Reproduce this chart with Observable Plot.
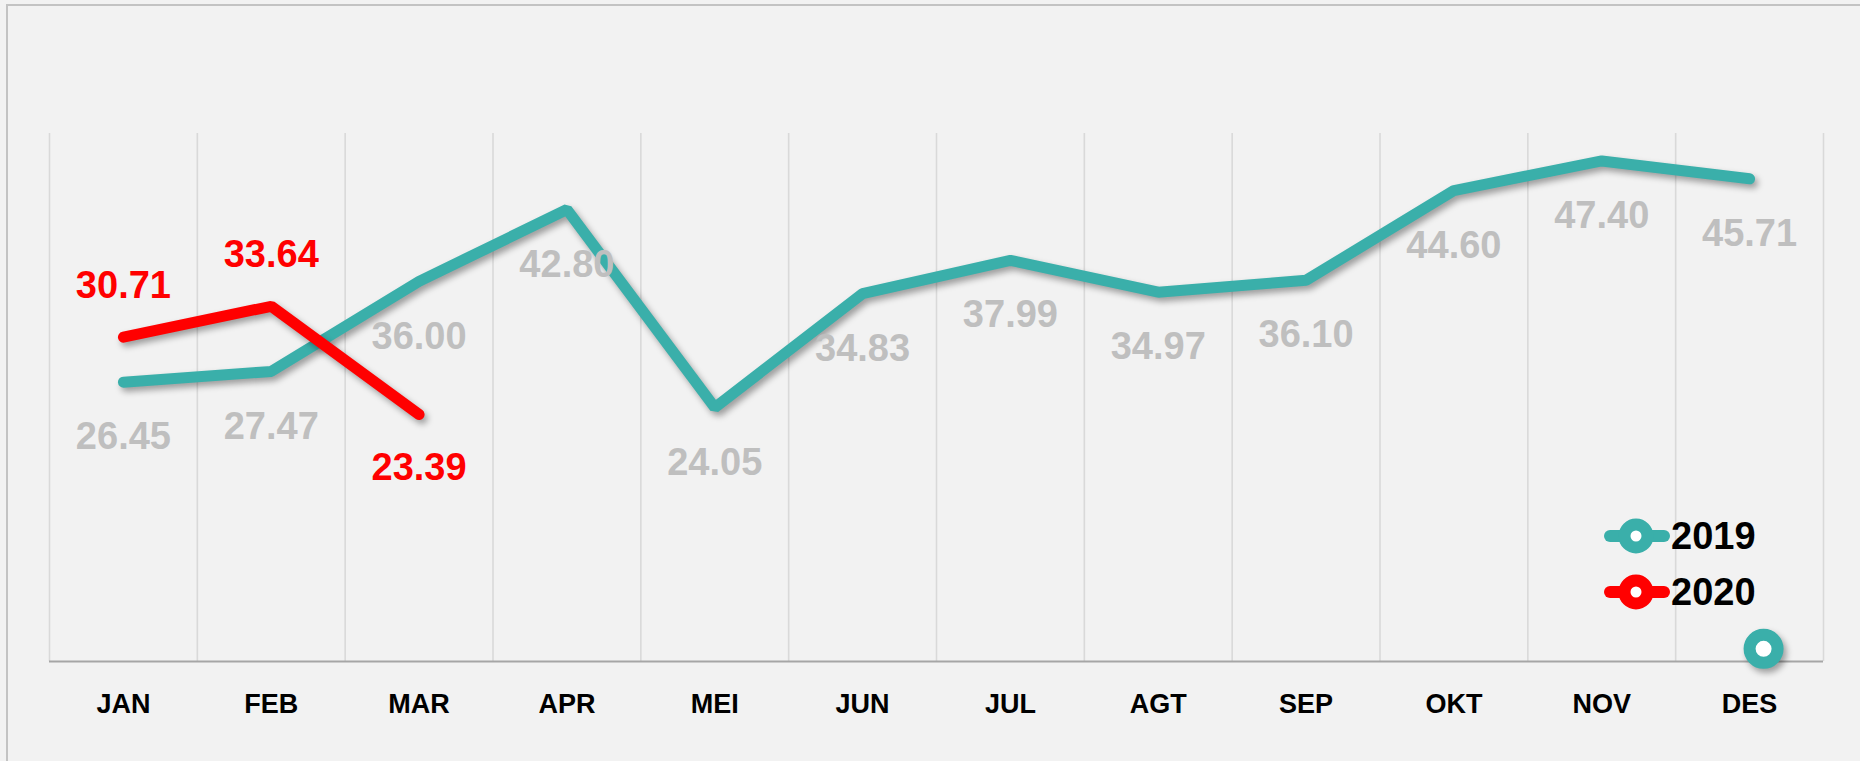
<!DOCTYPE html>
<html>
<head>
<meta charset="utf-8">
<script src="https://cdn.jsdelivr.net/npm/d3@7"></script>
<script src="https://cdn.jsdelivr.net/npm/@observablehq/plot@0.6"></script>
<style>
  html, body { margin: 0; padding: 0; background: #F2F2F2; }
  #wrap { position: relative; width: 1860px; height: 761px; overflow: hidden; background: #F2F2F2; font-family: "Liberation Sans", Arial, sans-serif; }
  #frame { position: absolute; left: 6px; top: 4px; right: 0; bottom: 0; border-left: 2px solid #C3C3C3; border-top: 2px solid #C3C3C3; }
  #chart { position: absolute; left: 0; top: 0; }
  .legend { position: absolute; left: 1604px; display: flex; align-items: center; font-weight: bold; font-size: 38px; color: #000; }
  .legend svg { display: block; margin-right: 1px; }
</style>
</head>
<body>
<div id="wrap">
  <div id="frame"></div>
  <div id="chart"></div>
  <div id="legend"></div>
</div>
<script>
// ---- data ----
const months = ["JAN", "FEB", "MAR", "APR", "MEI", "JUN", "JUL", "AGT", "SEP", "OKT", "NOV", "DES"];
const values2019 = [26.45, 27.47, 36.00, 42.80, 24.05, 34.83, 37.99, 34.97, 36.10, 44.60, 47.40, 45.71];
const values2020 = [30.71, 33.64, 23.39];
const seriesNames = ["2019", "2020"];
const seriesColors = ["#3AAFAA", "#FF0000"];
// stray marker visible near DES at the bottom of the reference
const strayMarker = [{month: "DES", value: 1.2}];

const data2019 = values2019.map((v, i) => ({i, month: months[i], value: v}));
const data2020 = values2020.map((v, i) => ({i, month: months[i], value: v}));
const boundaries = d3.range(months.length + 1).map(k => k - 0.5);
const stray = strayMarker.map(d => ({i: months.indexOf(d.month), value: d.value}));
const last2020 = data2020.length - 1;

const teal = seriesColors[0], red = seriesColors[1];
const font = "Liberation Sans, Arial, sans-serif";

const chart = Plot.plot({
  width: 1860,
  height: 761,
  marginLeft: 49,
  marginRight: 37,
  marginTop: 133,
  marginBottom: 100,
  style: {background: "transparent", fontFamily: font, overflow: "visible"},
  x: {type: "linear", domain: [-0.5, months.length - 0.5]},
  y: {type: "linear", domain: [0, 50]},
  marks: [
    Plot.ruleX(boundaries, {x: d => d, stroke: "#D9D9D9", strokeWidth: 1.6}),
    Plot.ruleY([0], {stroke: "#A6A6A6", strokeWidth: 2.2}),
    Plot.axisX({
      ticks: months.map((_, i) => i),
      tickFormat: i => months[i],
      tickSize: 0,
      tickPadding: 32,
      fontSize: 27,
      fontWeight: "bold",
      fill: "#000",
      label: null
    }),
    Plot.axisY({ticks: [], label: null, tickSize: 0}),
    Plot.line(data2019, {x: "i", y: "value", stroke: teal, strokeWidth: 11, strokeLinecap: "round", strokeLinejoin: "miter"}),
    Plot.line(data2020, {x: "i", y: "value", stroke: red, strokeWidth: 11, strokeLinecap: "round", strokeLinejoin: "miter"}),
    Plot.dot(stray, {x: "i", y: "value", r: 14, dx: 14, stroke: teal, strokeWidth: 12, fill: "#FFFFFF"}),
    Plot.text(data2019, {x: "i", y: "value", text: d => d.value.toFixed(2), dy: 55, fill: "#BFBFBF", fontSize: 38, fontWeight: "bold"}),
    Plot.text(data2020, {filter: d => d.i !== last2020, x: "i", y: "value", text: d => d.value.toFixed(2),
      dy: -51, fill: red, fontSize: 38, fontWeight: "bold"}),
    Plot.text(data2020, {filter: d => d.i === last2020, x: "i", y: "value", text: d => d.value.toFixed(2),
      dy: 53, fill: red, fontSize: 38, fontWeight: "bold"})
  ]
});

// drop shadows like the reference
chart.querySelectorAll('g[aria-label="line"], g[aria-label="dot"]').forEach(g => {
  g.style.filter = "drop-shadow(3px 4px 3px rgba(0,0,0,0.35))";
});

document.getElementById("chart").appendChild(chart);

// legend (HTML, overlaid in the lower right like the reference)
const legend = document.getElementById("legend");
const legendTops = [536, 592];
seriesNames.forEach((name, k) => {
  const row = document.createElement("div");
  row.className = "legend";
  row.style.top = (legendTops[k] - 22) + "px";
  row.innerHTML = `<svg width="66" height="44" viewBox="0 0 66 44">
      <line x1="6" y1="22" x2="60" y2="22" stroke="${seriesColors[k]}" stroke-width="12" stroke-linecap="round"/>
      <circle cx="32" cy="22" r="11.5" fill="#fff" stroke="${seriesColors[k]}" stroke-width="12"/>
    </svg><span style="line-height:44px">${name}</span>`;
  legend.appendChild(row);
});
</script>
</body>
</html>
